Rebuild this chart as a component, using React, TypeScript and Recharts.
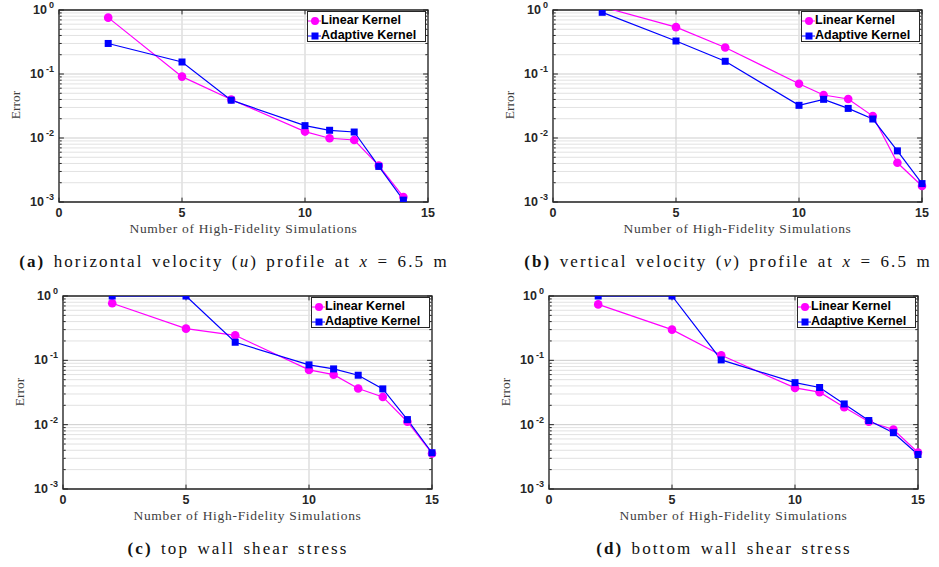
import { LineChart, Line, XAxis, YAxis, CartesianGrid, ReferenceLine, ReferenceArea } from 'recharts';

// x positions (number of high-fidelity simulations)
const xsA = [2, 5, 7, 10, 11, 12, 13, 14];
const xsBCD = [2, 5, 7, 10, 11, 12, 13, 14, 15];

// (a) horizontal velocity
const aLinear = [0.76, 0.091, 0.04, 0.0126, 0.0099, 0.0093, 0.0037, 0.0012];
const aAdaptive = [0.3, 0.154, 0.039, 0.0156, 0.0132, 0.0124, 0.0036, 0.00107];
// (b) vertical velocity
const bLinear = [1.12, 0.54, 0.26, 0.0706, 0.047, 0.0407, 0.022, 0.0041, 0.00178];
const bAdaptive = [0.92, 0.328, 0.158, 0.0324, 0.0402, 0.029, 0.0198, 0.0063, 0.00194];
// (c) top wall shear stress
const cLinear = [0.77, 0.311, 0.245, 0.071, 0.06, 0.0365, 0.027, 0.0111, 0.00357];
const cAdaptive = [1.0, 1.0, 0.191, 0.085, 0.0736, 0.0587, 0.036, 0.012, 0.00366];
// (d) bottom wall shear stress
const dLinear = [0.74, 0.3, 0.12, 0.0373, 0.032, 0.0187, 0.0111, 0.0084, 0.0037];
const dAdaptive = [1.0, 1.0, 0.1016, 0.045, 0.0378, 0.021, 0.0116, 0.0075, 0.00344];

const xTicks = [0, 5, 10, 15];
const yTicks = [0.001, 0.01, 0.1, 1];
const minorTicks = [0.001, 0.01, 0.1].flatMap((d) => [2, 3, 4, 5, 6, 7, 8, 9].map((m) => m * d));

const MAGENTA = '#ff00ff';
const BLUE = '#0000ff';
const AXIS = '#262626';
const SANS = '"Liberation Sans", Arial, sans-serif';
const SERIF = '"Liberation Serif", "Times New Roman", serif';

function build(xs: number[], lin: number[], ada: number[]) {
  return xs.map((x, i) => ({ x, linear: lin[i], adaptive: ada[i] }));
}

function LogTick(props: any) {
  const { x, y, payload } = props;
  const e = Math.round(Math.log10(payload.value));
  return (
    <text x={x + 3} y={y + 4} textAnchor="end" fontFamily={SANS} fontWeight="bold" fontSize={12.5} fill={AXIS}>
      <tspan>10</tspan>
      <tspan dx={2} dy={-6} fontSize={9}>{e}</tspan>
    </text>
  );
}

function XTick(props: any) {
  const { x, y, payload } = props;
  return (
    <text x={x} y={y + 7} textAnchor="middle" fontFamily={SANS} fontWeight="bold" fontSize={12.5} fill={AXIS}>
      {payload.value}
    </text>
  );
}

function SquareDot(props: any) {
  const { cx, cy } = props;
  if (cx == null || cy == null) return null;
  return <rect key={`s${cx}`} x={cx - 3.5} y={cy - 3.5} width={7} height={7} fill={BLUE} />;
}

function CircleDot(props: any) {
  const { cx, cy } = props;
  if (cx == null || cy == null) return null;
  return <circle key={`c${cx}`} cx={cx} cy={cy} r={4.3} fill={MAGENTA} />;
}

// inward tick marks on all four sides of the box
function tickMarks() {
  const out: any[] = [];
  yTicks.concat(minorTicks).forEach((v) => {
    const l = yTicks.includes(v) ? 0.2 : 0.11;
    out.push(
      <ReferenceLine key={`yl${v}`} segment={[{ x: 0, y: v }, { x: l, y: v }]} stroke={AXIS} ifOverflow="visible" />,
      <ReferenceLine key={`yr${v}`} segment={[{ x: 15 - l, y: v }, { x: 15, y: v }]} stroke={AXIS} ifOverflow="visible" />,
    );
  });
  xTicks.forEach((v) => {
    out.push(
      <ReferenceLine key={`xb${v}`} segment={[{ x: v, y: 0.001 }, { x: v, y: 0.00117 }]} stroke={AXIS} ifOverflow="visible" />,
      <ReferenceLine key={`xt${v}`} segment={[{ x: v, y: 0.855 }, { x: v, y: 1 }]} stroke={AXIS} ifOverflow="visible" />,
    );
  });
  return out;
}

interface PanelProps {
  plotLeft: number;
  plotTop: number;
  plotH: number;
  data: { x: number; linear: number; adaptive: number }[];
  label: string;
  caption: any;
}

function Panel({ plotLeft, plotTop, plotH, data, label, caption }: PanelProps) {
  const plotW = 369;
  const left = plotLeft - 60;
  const top = plotTop - 10;
  const legendLeft = plotLeft + plotW - 121;
  return (
    <>
      <div style={{ position: 'absolute', left, top }}>
        <LineChart
          width={60 + plotW + 42}
          height={10 + plotH + 38}
          data={data}
          margin={{ top: 10, right: 42, left: 10, bottom: 0 }}
        >
          {minorTicks.map((v) => (
            <ReferenceLine key={v} y={v} stroke="#e2e2e2" strokeWidth={1} />
          ))}
          <CartesianGrid stroke="#cdcdcd" strokeWidth={1} />
          <XAxis
            dataKey="x"
            type="number"
            domain={[0, 15]}
            ticks={xTicks}
            tick={<XTick />}
            tickLine={false}
            axisLine={false}
            height={38}
          />
          <YAxis
            scale="log"
            type="number"
            domain={[0.001, 1]}
            allowDataOverflow
            ticks={yTicks}
            tick={<LogTick />}
            tickLine={false}
            axisLine={false}
            width={50}
          />
          {tickMarks()}
          <ReferenceArea x1={0} x2={15} y1={0.001} y2={1} fill="none" stroke={AXIS} strokeWidth={1.3} />
          <Line
            type="linear"
            dataKey="linear"
            stroke={MAGENTA}
            strokeWidth={1.2}
            dot={<CircleDot />}
            activeDot={false}
            isAnimationActive={false}
          />
          <Line
            type="linear"
            dataKey="adaptive"
            stroke={BLUE}
            strokeWidth={1.2}
            dot={<SquareDot />}
            activeDot={false}
            isAnimationActive={false}
          />
        </LineChart>
      </div>
      {/* y axis label */}
      <div
        style={{
          position: 'absolute',
          left: plotLeft - 43 - 30,
          top: plotTop + plotH / 2 - 9,
          width: 60,
          textAlign: 'center',
          transform: 'rotate(-90deg)',
          fontFamily: SERIF,
          fontSize: 13.5,
          color: '#404040',
        }}
      >
        Error
      </div>
      {/* x axis label */}
      <div
        style={{
          position: 'absolute',
          left: plotLeft - 20,
          width: plotW + 40,
          top: plotTop + plotH + 19,
          textAlign: 'center',
          fontFamily: SERIF,
          fontSize: 13.5,
          letterSpacing: 0.7,
          color: '#404040',
          whiteSpace: 'nowrap',
        }}
      >
        Number of High-Fidelity Simulations
      </div>
      {/* legend */}
      <div
        style={{
          position: 'absolute',
          left: legendLeft,
          top: plotTop + 1,
          width: 119,
          height: 31,
          border: '1px solid #262626',
          background: '#ffffff',
          fontFamily: SANS,
          fontWeight: 'bold',
          fontSize: 12.5,
          color: '#000',
          lineHeight: '15px',
          paddingTop: 1,
          boxSizing: 'border-box',
        }}
      >
        <div style={{ display: 'flex', alignItems: 'center', whiteSpace: 'nowrap' }}>
          <svg width={13} height={12}>
            <line x1={0} y1={6} x2={13} y2={6} stroke={MAGENTA} strokeWidth={1} />
            <circle cx={7} cy={6} r={4} fill={MAGENTA} />
          </svg>
          <span>Linear Kernel</span>
        </div>
        <div style={{ display: 'flex', alignItems: 'center', whiteSpace: 'nowrap' }}>
          <svg width={13} height={12}>
            <line x1={0} y1={6} x2={13} y2={6} stroke={BLUE} strokeWidth={1} />
            <rect x={3.5} y={2.5} width={7} height={7} fill={BLUE} />
          </svg>
          <span>Adaptive Kernel</span>
        </div>
      </div>
      {/* caption */}
      <div
        style={{
          position: 'absolute',
          left: plotLeft - 80,
          width: 510,
          top: plotTop + plotH + 50,
          textAlign: 'center',
          fontFamily: SERIF,
          fontSize: 17,
          letterSpacing: 2.1,
          wordSpacing: 2,
          color: '#111',
          whiteSpace: 'nowrap',
        }}
      >
        <b>{label}</b> {caption}
      </div>
    </>
  );
}

export default function App() {
  return (
    <div style={{ position: 'absolute', left: 0, top: 0, width: 939, height: 567, background: '#fff', overflow: 'hidden' }}>
      <Panel
        plotLeft={59}
        plotTop={10}
        plotH={192}
        data={build(xsA, aLinear, aAdaptive)}
        label="(a)"
        caption={<>horizontal velocity (<i>u</i>) profile at <i>x</i> = 6.5 m</>}
      />
      <Panel
        plotLeft={553}
        plotTop={10}
        plotH={192}
        data={build(xsBCD, bLinear, bAdaptive)}
        label="(b)"
        caption={<>vertical velocity (<i>v</i>) profile at <i>x</i> = 6.5 m</>}
      />
      <Panel plotLeft={63} plotTop={296} plotH={193} data={build(xsBCD, cLinear, cAdaptive)} label="(c)" caption="top wall shear stress" />
      <Panel plotLeft={549} plotTop={296} plotH={193} data={build(xsBCD, dLinear, dAdaptive)} label="(d)" caption="bottom wall shear stress" />
    </div>
  );
}
